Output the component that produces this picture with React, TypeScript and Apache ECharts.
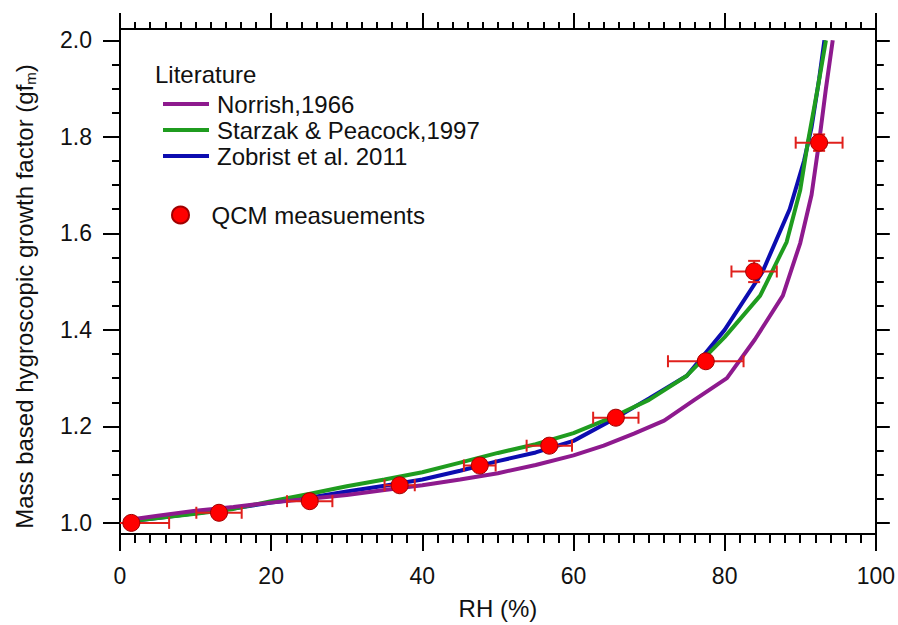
import React, { useEffect, useRef } from "react";
import * as echarts from "echarts";

// ---- Data ----
const norrishRH = [0.5, 5, 10, 15, 20, 25, 30, 35, 40, 45, 50, 55, 60, 64, 68, 72, 76, 80.3, 84, 87.7, 90, 91.5, 92.5, 93.4, 94.3];
const norrishGF = [1.005, 1.015, 1.025, 1.033, 1.042, 1.05, 1.058, 1.068, 1.078, 1.09, 1.103, 1.12, 1.14, 1.16, 1.185, 1.212, 1.255, 1.3, 1.38, 1.471, 1.58, 1.68, 1.79, 1.9, 2.0];

const starzakRH = [1, 5, 10, 15, 20, 25, 30, 35, 40, 45, 50, 55, 60, 65, 70, 75, 80, 84.7, 88.2, 90, 91, 92.3, 93.4];
const starzakGF = [1.003, 1.01, 1.019, 1.029, 1.045, 1.06, 1.076, 1.09, 1.105, 1.125, 1.145, 1.163, 1.186, 1.218, 1.255, 1.305, 1.385, 1.471, 1.582, 1.69, 1.788, 1.9, 2.0];

const zobristRH = [1, 5, 10, 15, 20, 25, 30, 35, 40, 45, 50, 55, 60, 65, 70, 75, 80, 85, 88.6, 90.5, 91.5, 92.5, 93.2];
const zobristGF = [1.003, 1.01, 1.02, 1.03, 1.042, 1.052, 1.065, 1.077, 1.09, 1.108, 1.128, 1.146, 1.17, 1.212, 1.258, 1.305, 1.4, 1.52, 1.65, 1.75, 1.82, 1.92, 2.0];

const qcmRH = [1.5, 13.1, 25.1, 37.0, 47.6, 56.8, 65.6, 77.5, 83.9, 92.5];
const qcmGF = [1.0, 1.021, 1.045, 1.078, 1.119, 1.16, 1.218, 1.335, 1.521, 1.788];
const qcmRHErr = [5, 3, 3, 2, 2.1, 3, 3, 5, 3, 3.1];
const qcmGFErr = [0, 0, 0, 0, 0, 0, 0, 0, 0.022, 0.017];

const yMajorTicks = [1.0, 1.2, 1.4, 1.6, 1.8, 2.0];
const yMinorTicks = [1.0, 1.05, 1.1, 1.15, 1.2, 1.25, 1.3, 1.35, 1.4, 1.45, 1.5, 1.55, 1.6, 1.65, 1.7, 1.75, 1.8, 1.85, 1.9, 1.95, 2.0];

const seriesNames = ["Norrish,1966", "Starzak & Peacock,1997", "Zobrist et al. 2011"];
const qcmName = "QCM measuements";

const FONT = 'Arial, "Liberation Sans", sans-serif';
const pair = (xs: number[], ys: number[]) => xs.map((x, i) => [x, ys[i]]);

export default function App() {
  const ref = useRef<HTMLDivElement>(null);
  useEffect(() => {
    if (!ref.current) return;
    const chart = echarts.init(ref.current, null, { renderer: "svg" });
    const YMIN = 0.977;
    const YMAX = 2.0235;
    const axisLine = { show: true, lineStyle: { color: "#000", width: 2 } };
    const tickStyle = { color: "#000", width: 2 };
    const lbl = { color: "#111", fontSize: 23, fontFamily: FONT };
    const yBase = (pos: string) => ({
      type: "value",
      position: pos,
      min: YMIN,
      max: YMAX,
      axisLine,
      splitLine: { show: false },
    });
    const option: any = {
      animation: false,
      backgroundColor: "#fff",
      grid: { left: 120, right: 22, top: 29, bottom: 88 },
      graphic: [
        {
          type: "text",
          left: 155,
          top: 62,
          style: { text: "Literature", fontSize: 24, fontFamily: FONT, fill: "#111" },
        },
      ],
      legend: [
        {
          data: seriesNames.map((n) => ({ name: n, icon: "rect" })),
          orient: "vertical",
          left: 158,
          top: 87,
          itemWidth: 46,
          itemHeight: 4,
          itemGap: 2,
          selectedMode: false,
          textStyle: { fontSize: 24, fontFamily: FONT, color: "#111", padding: [0, 0, 0, 3] },
        },
        {
          data: [{ name: qcmName, icon: "circle" }],
          orient: "vertical",
          left: 166,
          top: 198,
          itemWidth: 46,
          itemHeight: 17,
          selectedMode: false,
          textStyle: { fontSize: 24, fontFamily: FONT, color: "#111", padding: [0, 0, 0, 3] },
        },
      ],
      xAxis: [
        {
          type: "value",
          position: "bottom",
          min: 0,
          max: 100,
          interval: 20,
          name: "RH (%)",
          nameLocation: "middle",
          nameGap: 62,
          nameTextStyle: { fontSize: 24, fontFamily: FONT, color: "#111" },
          axisLine,
          axisTick: { show: true, length: 17, lineStyle: tickStyle },
          minorTick: { show: true, splitNumber: 10, length: 9, lineStyle: tickStyle },
          axisLabel: { ...lbl, margin: 30 },
          splitLine: { show: false },
          minorSplitLine: { show: false },
        },
        {
          type: "value",
          position: "top",
          min: 0,
          max: 100,
          interval: 20,
          axisLine,
          axisTick: { show: true, length: 16, lineStyle: tickStyle },
          minorTick: { show: true, splitNumber: 10, length: 7, lineStyle: tickStyle },
          axisLabel: { show: false },
          splitLine: { show: false },
        },
      ],
      yAxis: [
        {
          ...yBase("left"),
          name: "{a|Mass based hygroscopic growth factor (gf}{b|m}{a|)}",
          nameLocation: "middle",
          nameGap: 82,
          nameRotate: 90,
          nameTextStyle: {
            padding: [0, 30, 0, 0],
            rich: {
              a: { fontSize: 24, fontFamily: FONT, color: "#111" },
              b: { fontSize: 15, fontFamily: FONT, color: "#111", padding: [12, 0, 0, 0] },
            },
          },
          axisTick: { show: true, length: 17, lineStyle: tickStyle, customValues: yMajorTicks },
          axisLabel: {
            ...lbl,
            margin: 28,
            customValues: yMajorTicks,
            formatter: (v: number) => v.toFixed(1),
          },
        },
        {
          ...yBase("left"),
          axisTick: { show: true, length: 8, lineStyle: tickStyle, customValues: yMinorTicks },
          axisLabel: { show: false },
        },
        {
          ...yBase("right"),
          axisTick: { show: true, length: 14, lineStyle: tickStyle, customValues: yMajorTicks },
          axisLabel: { show: false },
        },
        {
          ...yBase("right"),
          axisTick: { show: true, length: 8, lineStyle: tickStyle, customValues: yMinorTicks },
          axisLabel: { show: false },
        },
      ],
      series: [
        {
          name: seriesNames[2],
          type: "line",
          data: pair(zobristRH, zobristGF),
          showSymbol: false,
          symbol: "none",
          lineStyle: { color: "#0c0cb0", width: 4 },
          itemStyle: { color: "#0c0cb0" },
          z: 2,
        },
        {
          name: seriesNames[1],
          type: "line",
          data: pair(starzakRH, starzakGF),
          showSymbol: false,
          symbol: "none",
          lineStyle: { color: "#1f9c1f", width: 4 },
          itemStyle: { color: "#1f9c1f" },
          z: 3,
        },
        {
          name: seriesNames[0],
          type: "line",
          data: pair(norrishRH, norrishGF),
          showSymbol: false,
          symbol: "none",
          lineStyle: { color: "#8e1a8e", width: 4 },
          itemStyle: { color: "#8e1a8e" },
          z: 4,
        },
        {
          name: "errors",
          type: "custom",
          clip: true,
          z: 5,
          data: qcmRH.map((x, i) => [x, qcmGF[i], qcmRHErr[i], qcmGFErr[i]]),
          renderItem: (params: any, api: any) => {
            const x = api.value(0);
            const y = api.value(1);
            const ex = api.value(2);
            const ey = api.value(3);
            const cap = 6;
            const style = { stroke: "#e0201c", lineWidth: 2, fill: null };
            const l = api.coord([x - ex, y]);
            const r = api.coord([x + ex, y]);
            const children: any[] = [
              { type: "line", shape: { x1: l[0], y1: l[1], x2: r[0], y2: r[1] }, style },
              { type: "line", shape: { x1: l[0], y1: l[1] - cap, x2: l[0], y2: l[1] + cap }, style },
              { type: "line", shape: { x1: r[0], y1: r[1] - cap, x2: r[0], y2: r[1] + cap }, style },
            ];
            if (ey > 0) {
              const b = api.coord([x, y - ey]);
              const t = api.coord([x, y + ey]);
              children.push(
                { type: "line", shape: { x1: b[0], y1: b[1], x2: t[0], y2: t[1] }, style },
                { type: "line", shape: { x1: b[0] - cap, y1: b[1], x2: b[0] + cap, y2: b[1] }, style },
                { type: "line", shape: { x1: t[0] - cap, y1: t[1], x2: t[0] + cap, y2: t[1] }, style }
              );
            }
            return { type: "group", children };
          },
        },
        {
          name: qcmName,
          type: "scatter",
          data: pair(qcmRH, qcmGF),
          symbol: "circle",
          symbolSize: 17,
          itemStyle: { color: "#ff0000", borderColor: "#a00000", borderWidth: 1, opacity: 1 },
          z: 6,
        },
      ],
    };
    chart.setOption(option);
    return () => chart.dispose();
  }, []);
  return <div ref={ref} style={{ width: 898, height: 625, position: "absolute", left: 0, top: 0 }} />;
}
